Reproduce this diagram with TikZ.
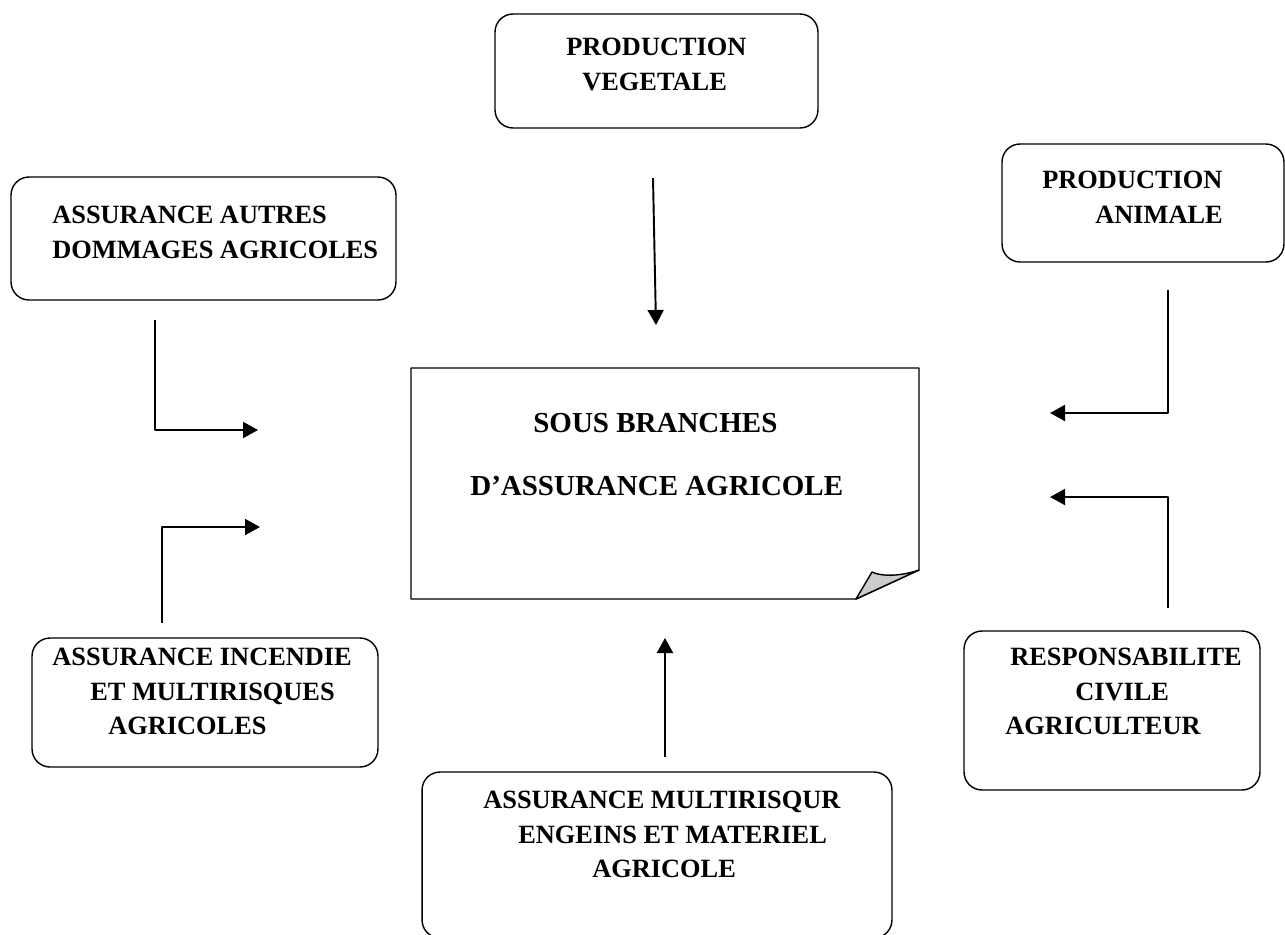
\documentclass[tikz,border=0pt]{standalone}
\usepackage{fontspec}
\setmainfont{Liberation Serif}
\usetikzlibrary{arrows.meta}
\begin{document}
\begin{tikzpicture}[x=0.02cm, y=-0.02cm, line join=round, >={Triangle[length=0.3cm,width=0.32cm]},
		card/.style={draw, line width=0.8pt, rounded corners=0.36cm, inner sep=0pt},
		txt/.style={anchor=north west, inner sep=0pt, align=left, font=\fontsize{15}{19.64}\selectfont\bfseries},
		flow/.style={->, line width=1.1pt}]
		\useasboundingbox (0,0) rectangle (1285,934);
		% boites
		\node[card, minimum width=6.46cm, minimum height=2.28cm] (veg) at (656.5,71) {};
		\node[card, minimum width=7.70cm, minimum height=2.46cm] (autres) at (203.5,238.5) {};
		\node[card, minimum width=5.64cm, minimum height=2.36cm] (animale) at (1143,203) {};
		\node[card, minimum width=6.92cm, minimum height=2.58cm] (incendie) at (205,702.5) {};
		\node[card, minimum width=9.40cm, minimum height=3.32cm] (engins) at (657,855) {};
		\node[card, minimum width=5.92cm, minimum height=3.18cm] (resp) at (1112,710.5) {};
		\draw[line width=0.8pt, fill=white] (411,368) -- (919,368) -- (919,570) -- (856,599) -- (411,599) -- cycle;
		\draw[line width=0.8pt, fill=black!20] (856,599) -- (872,572) .. controls (882,577) and (902,576) .. (919,570) -- cycle;
		% textes
		\node[txt] (vegtxt) at (566,37.7) {PRODUCTION\\\hspace*{0.32cm}VEGETALE};
		\node[txt] (autrestxt) at (52,205.7) {ASSURANCE AUTRES\\DOMMAGES AGRICOLES};
		\node[txt] (animaletxt) at (1042,170.7) {PRODUCTION\\\hspace*{1.06cm}ANIMALE};
		\node[txt, font=\fontsize{16.5}{35.85}\selectfont\bfseries] (centre) at (470,413) {\hspace*{1.26cm}SOUS BRANCHES\\D’ASSURANCE AGRICOLE};
		\node[txt] (incendietxt) at (52,647.7) {ASSURANCE INCENDIE\\\hspace*{0.76cm}ET MULTIRISQUES\\\hspace*{1.12cm}AGRICOLES};
		\node[txt] (enginstxt) at (483,790.7) {ASSURANCE MULTIRISQUR\\\hspace*{0.7cm}ENGEINS ET MATERIEL\\\hspace*{2.18cm}AGRICOLE};
		\node[txt] (resptxt) at (1005,647.7) {\hspace*{0.1cm}RESPONSABILITE\\\hspace*{1.4cm}CIVILE\\AGRICULTEUR};
		% fleches
		\coordinate (v1) at (653,178); \coordinate (v2) at (656,325);
		\coordinate (a1) at (155,320); \coordinate (a2) at (258,430);
		\coordinate (i1) at (162,623); \coordinate (i2) at (260,527);
		\coordinate (n1) at (1168,290); \coordinate (n2) at (1050,413);
		\coordinate (r1) at (1168,608); \coordinate (r2) at (1050,497);
		\coordinate (m1) at (665,757); \coordinate (m2) at (665,638);
		\draw[flow] (v1) -- (v2);
		\draw[flow] (a1) |- (a2);
		\draw[flow] (i1) |- (i2);
		\draw[flow] (n1) |- (n2);
		\draw[flow] (r1) |- (r2);
		\draw[flow] (m1) -- (m2);
\end{tikzpicture}
\end{document}
